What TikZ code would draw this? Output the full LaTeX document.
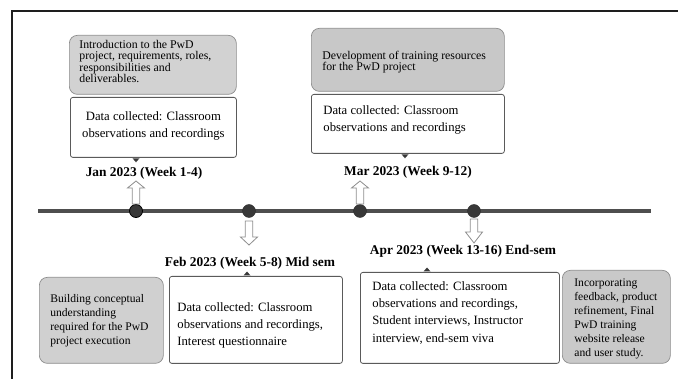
\documentclass[tikz,border=0pt]{standalone}
\usepackage{fontspec}
\setmainfont{Liberation Serif}
\usetikzlibrary{calc}
\definecolor{framec}{HTML}{1E1E1E}
\definecolor{linec}{HTML}{4E4E4E}
\definecolor{dotc}{HTML}{383838}
\definecolor{grayA}{HTML}{D2D2D2}
\definecolor{grayB}{HTML}{C8C8C8}
\definecolor{grayC}{HTML}{D0D0D0}
\definecolor{grayD}{HTML}{C9C9C9}
\definecolor{grayborder}{HTML}{8C8C8C}
\definecolor{whiteborder}{HTML}{5A5A5A}
\definecolor{arrowborder}{HTML}{8E8E8E}
\newcommand\bxt[6]{\parbox[c][#2][t]{#1}{#5\leftskip=#3\relax\vspace*{#4}#6\par}}
\newcommand\fgtop{\fontsize{11.8}{11.4}\selectfont}
\newcommand\fgbot{\fontsize{11.6}{13.9}\selectfont}
\newcommand\fwhite{\fontsize{12.7}{17.3}\selectfont}
\newcommand\vertarrow[4]{%
  \draw[blockarrow] ($(#1)+(-3.7,#2)$) -- ($(#1)+(-3.7,#3)$) -- ($(#1)+(-8.5,#3)$)
    -- ($(#1)+(0,#4)$) -- ($(#1)+(8.5,#3)$) -- ($(#1)+(3.7,#3)$) -- ($(#1)+(3.7,#2)$) -- cycle;}
\tikzset{
  graybox/.style={draw=grayborder, line width=0.7pt, rounded corners=8pt, inner sep=0pt, anchor=north west},
  whitebox/.style={draw=whiteborder, fill=white, line width=0.8pt, rounded corners=2.5pt, inner sep=0pt, anchor=north west},
  datelabel/.style={font=\fontsize{13.4}{15}\selectfont\bfseries, inner sep=0pt},
  tlinedot/.style={circle, fill=dotc, draw=dotc!80!black, minimum size=13pt, inner sep=0pt},
  blockarrow/.style={draw=arrowborder, fill=white, line width=0.8pt, line join=miter},
  pointer/.style={fill=dotc},
}
\begin{document}
\begin{tikzpicture}[x=1pt, y=-1pt]
\useasboundingbox (0,0) rectangle (678,379);
% frame
\draw[framec, line width=2.4pt] (12,379) -- (12,11) -- (678,11);
% timeline
\coordinate (tlstart) at (38,211);
\coordinate (tlend) at (651,211);
\draw[linec, line width=4.5pt] (tlstart) -- (tlend);
\node[tlinedot, draw=black, line width=0.8pt] (d1) at (136,211) {};
\node[tlinedot] (d2) at (249,211) {};
\node[tlinedot] (d3) at (360,211) {};
\node[tlinedot] (d4) at (474,211) {};

% top: January
\node[graybox, fill=grayA] (jang) at (69,35)
  {\bxt{167pt}{59pt}{10pt}{5pt}{\raggedright}{\fgtop Introduction to the PwD\\project, requirements, roles,\\responsibilities and\\deliverables.}};
\node[whitebox] (datajan) at (70,97)
  {\bxt{166pt}{60pt}{0pt plus 1fil}{14.4pt}{\centering}{\fwhite Data collected: Classroom\\observations and recordings}};
\node[datelabel] (janlbl) at (144,173) {Jan 2023 (Week 1-4)};

% top: March
\node[graybox, fill=grayB] (marg) at (311,28)
  {\bxt{193pt}{63pt}{11pt}{22.5pt}{\raggedright}{\fgtop Development of training resources\\for the PwD project}};
\node[whitebox] (datamar) at (311,94)
  {\bxt{193pt}{59pt}{12pt}{11.1pt}{\raggedright}{\fwhite Data collected: Classroom\\observations and recordings}};
\node[datelabel] (marlbl) at (408,172) {Mar 2023 (Week 9-12)};

% bottom: February
\node[datelabel] (feblbl) at (250,263) {Feb 2023 (Week 5-8) Mid sem};
\node[graybox, fill=grayC] (febg) at (39,277)
  {\bxt{124pt}{86pt}{11pt}{17.6pt}{\raggedright}{\fgbot Building conceptual\\understanding\\required for the PwD\\project execution}};
\node[whitebox] (datafeb) at (169,276)
  {\bxt{173pt}{87pt}{8pt}{25.8pt}{\raggedright}{\fwhite Data collected: Classroom\\observations and recordings,\\Interest questionnaire}};

% bottom: April
\node[datelabel] (aprlbl) at (463,251) {Apr 2023 (Week 13-16) End-sem};
\node[whitebox] (dataapr) at (360,272)
  {\bxt{199pt}{91pt}{12pt}{9.1pt}{\raggedright}{\fwhite Data collected: Classroom\\observations and recordings,\\Student interviews, Instructor\\interview, end-sem viva}};
\node[graybox, fill=grayD] (aprg) at (562,270)
  {\bxt{108pt}{93pt}{12pt}{8.9pt}{\raggedright}{\fgbot Incorporating\\feedback, product\\refinement, Final\\PwD training\\website release\\and user study.}};

% small pointers
\coordinate (pjan) at (d1 |- datajan.south);
\fill[pointer] ($(pjan)+(-3.5,0.5)$) -- ($(pjan)+(3.5,0.5)$) -- ($(pjan)+(0,4.5)$) -- cycle;
\coordinate (pmar) at ($(datamar.south west)+(94,0)$);
\fill[pointer] ($(pmar)+(-3.5,0.5)$) -- ($(pmar)+(3.5,0.5)$) -- ($(pmar)+(0,4.5)$) -- cycle;
\coordinate (pfeb) at ($(datafeb.north west)+(78,0)$);
\fill[pointer] ($(pfeb)+(-3.5,-0.5)$) -- ($(pfeb)+(3.5,-0.5)$) -- ($(pfeb)+(0,-4.5)$) -- cycle;
\coordinate (papr) at ($(dataapr.north west)+(67,0)$);
\fill[pointer] ($(papr)+(-3.5,-0.5)$) -- ($(papr)+(3.5,-0.5)$) -- ($(papr)+(0,-4.5)$) -- cycle;

% block arrows between dots and date labels
\vertarrow{d1}{-7}{-23}{-30}
\vertarrow{d3}{-7}{-23}{-30}
\vertarrow{d2}{10}{26}{34}
\vertarrow{d4}{8}{21}{32}
\end{tikzpicture}
\end{document}
